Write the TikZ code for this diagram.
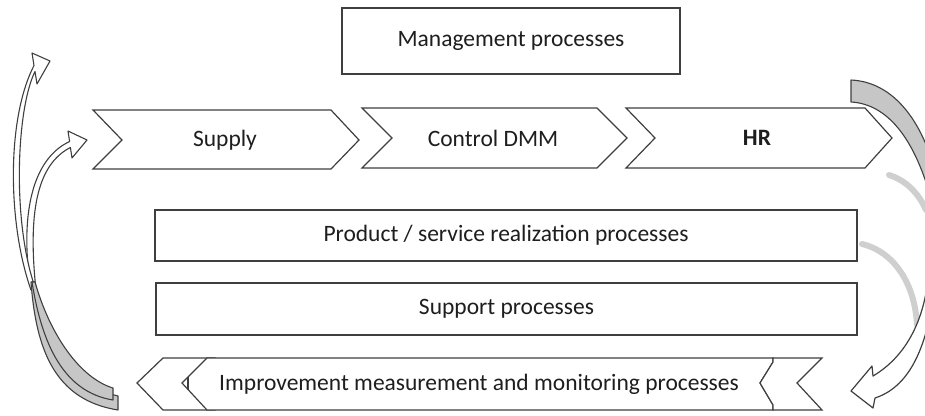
\documentclass[tikz,border=0pt]{standalone}
\usepackage{fontspec}
\setmainfont{Carlito}
\definecolor{ln}{HTML}{3F3F3F}
\definecolor{bandgray}{HTML}{C6C6C6}
\definecolor{ghost}{HTML}{CFCFCF}
\definecolor{txt}{HTML}{1E1E1E}
\begin{document}
\begin{tikzpicture}[x=1pt,y=-1pt,
  shp/.style={draw=ln, line width=1.2pt, fill=white, line join=miter},
  outl/.style={draw=ln, line width=1.1pt, line join=round},
  bandst/.style={draw=ln, line width=1.1pt, fill=bandgray, line join=round},
  ghostarc/.style={draw=ghost, line width=6pt, line cap=round},
  lbl/.style={font=\fontsize{23.5}{28}\selectfont, text=txt, inner sep=0pt},
  boxst/.style={draw=ln, line width=1.2pt, fill=white, inner sep=0pt}]
\useasboundingbox (0,0) rectangle (925,415);
\clip (0,0) rectangle (925,415);

% management box
\node[boxst, minimum width=338pt, minimum height=66pt] (mgmt) at (511,41) {};
\node[lbl] (mgmtlbl) at (mgmt.center) {Management processes};

% chevrons
\draw[shp] (93,110) -- (331,110) -- (359,140) -- (331,169) -- (93,169) -- (122,140) -- cycle;
\node[lbl] (supply) at (225,140) {Supply};
\draw[shp] (362,108) -- (597,108) -- (627,138) -- (597,168) -- (362,168) -- (392,138) -- cycle;
\node[lbl] (ctrl) at (493,138) {Control DMM};
\draw[shp] (626,108) -- (865,108) -- (892,138) -- (865,168) -- (626,168) -- (655,138) -- cycle;
\node[lbl, font=\fontsize{23.5}{28}\selectfont\bfseries] (hr) at (757,138) {HR};

% middle boxes
\node[boxst, minimum width=702pt, minimum height=51pt] (prod) at (506,235.5) {};
\node[lbl] (prodlbl) at (prod.center) {Product / service realization processes};
\node[boxst, minimum width=701pt, minimum height=52pt] (supp) at (506.5,309) {};
\node[lbl] (supplbl) at (supp.center) {Support processes};

% bottom reversed arrow
\draw[shp] (163,358) -- (215,358) -- (215,410) -- (163,410) -- (137,383) -- cycle;
\draw[shp] (207,358) -- (773,358) -- (773,362) -- (760,383) -- (773,405) -- (773,410) -- (207,410) -- (182,383) -- cycle;
\draw[shp] (773,358) -- (822,358) -- (797,383) -- (822,410) -- (773,410) -- (773,405) -- (760,383) -- (773,362) -- cycle;
\draw[outl] (188,377) -- (188,390);
\node[lbl] (impr) at (479,384) {Improvement measurement and monitoring processes};

% left curved arrows
% inner arrow (B)
\fill[white] (31,290) .. controls (20,220) and (30,160) .. (69.6,141.5) -- (68,131) -- (87,140) -- (72,158) -- (70.4,147.5) .. controls (36,165) and (28,215) .. (36,290) -- cycle;
\draw[outl] (31,290) .. controls (20,220) and (30,160) .. (69.6,141.5) -- (68,131) -- (87,140) -- (72,158) -- (70.4,147.5) .. controls (36,165) and (28,215) .. (36,290);
% outer arrow (A)
\fill[white] (31,290) .. controls (8,225) and (6,120) .. (34,65.5) -- (32,53) -- (50,61) -- (37,84) -- (35,71.5) .. controls (16,110) and (12,225) .. (36,290) -- cycle;
\draw[outl] (31,290) .. controls (8,225) and (6,120) .. (34,65.5) -- (32,53) -- (50,61) -- (37,84) -- (35,71.5) .. controls (16,110) and (12,225) .. (36,290);
% gray lower parts
\filldraw[bandst] (31,282) .. controls (36,350) and (55,400) .. (118,410) -- (118,396) .. controls (76,386) and (46,340) .. (35,282) -- cycle;
\filldraw[bandst] (32,282) .. controls (42,345) and (64,392) .. (113,400) -- (113,388) .. controls (80,378) and (50,335) .. (35,282) -- cycle;

% right side
\filldraw[bandst] (851,80) .. controls (893,82) and (925,120) .. (940,190) -- (935,215) .. controls (918,140) and (888,104) .. (851,102) -- cycle;
\draw[ghostarc] (889,175) .. controls (905,180) and (918,192) .. (926,210);
\draw[ghostarc] (862,244) .. controls (895,252) and (915,285) .. (917,325);
\draw[shp, line join=round] (928,280) .. controls (922,330) and (900,360) .. (873,376) -- (872,366) -- (851,391) -- (873,408) -- (875,398) .. controls (900,390) and (922,365) .. (932,305) -- cycle;
\end{tikzpicture}
\end{document}
